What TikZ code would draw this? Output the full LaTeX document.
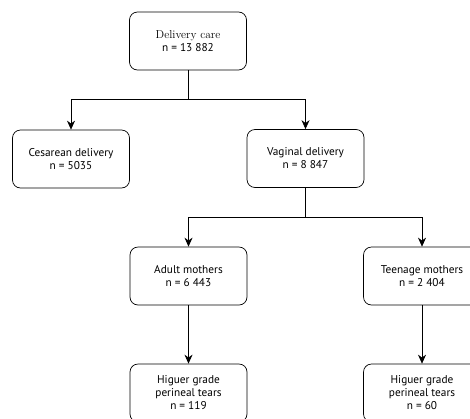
\documentclass[tikz,border=0pt]{standalone}
\usepackage{fontspec}
\setsansfont{PT Sans}
\usetikzlibrary{arrows.meta, positioning}

\tikzset{
    flowbox/.style={draw, rounded corners=8pt, minimum width=117pt, minimum height=58pt,
        align=center, font=\sffamily\fontsize{11.3}{13}\selectfont, line width=0.7pt},
    link/.style={line width=0.7pt},
}

\begin{document}
\begin{tikzpicture}[x=1pt, y=-1pt, >={Stealth[length=9pt, width=8pt]}]
    \useasboundingbox (0,0) rectangle (470,418);
    \clip (0,0) rectangle (470,418);

    % Nodes
    \node[flowbox] (care) at (188, 41) {{\rmfamily\fontsize{11.5}{13}\selectfont Delivery care}\\n = 13 882};
    \node[flowbox] (cesarean) at (71, 159) {Cesarean delivery\\n = 5035};
    \node[flowbox] (vaginal) at (305.5, 158.5) {Vaginal delivery\\n = 8 847};
    \node[flowbox] (adult) at (188.5, 276) {Adult mothers\\n = 6 443};
    \node[flowbox] (teen) at (422, 276) {Teenage mothers\\n = 2 404};
    \node[flowbox] (tearsadult) at (188.5, 393) {Higuer grade\\perineal tears\\n = 119};
    \node[flowbox] (tearsteen) at (422, 393) {Higuer grade\\perineal tears\\n = 60};

    % Split points
    \coordinate (split1) at (188, 99);
    \coordinate (split2) at (305.5, 217);

    % Paths
    \draw[link] (care) -- (split1);
    \draw[link, ->] (split1) -| (cesarean);
    \draw[link, ->] (split1) -| (vaginal);

    \draw[link] (vaginal) -- (split2);
    \draw[link, ->] (split2) -| (adult);
    \draw[link, ->] (split2) -| (teen);

    \draw[link, ->] (adult) -- (tearsadult);
    \draw[link, ->] (teen) -- (tearsteen);
\end{tikzpicture}
\end{document}
